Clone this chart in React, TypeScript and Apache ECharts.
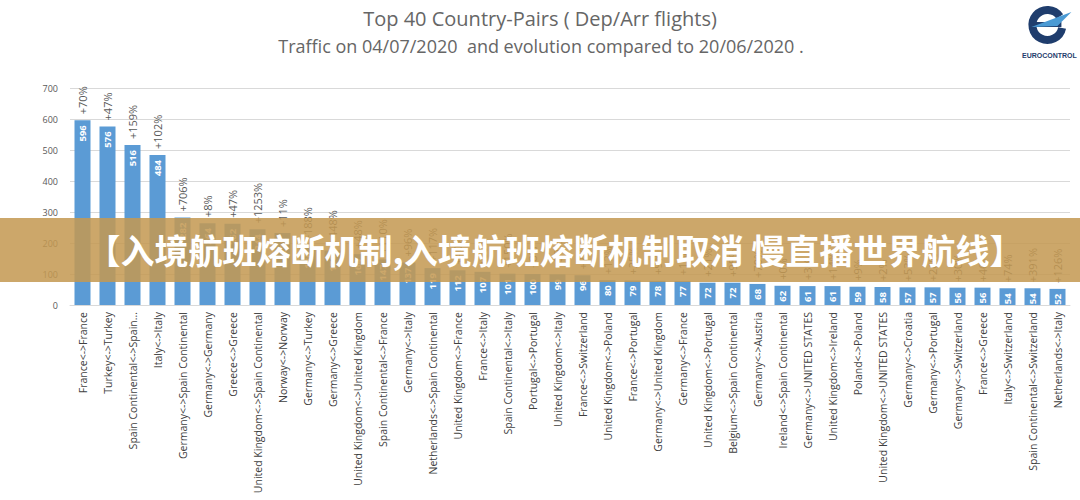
import React, { useEffect, useRef } from "react";
import * as echarts from "echarts";

const categories = [
  "France<->France", "Turkey<->Turkey", "Spain Continental<->Spain Continental", "Italy<->Italy",
  "Germany<->Spain Continental", "Germany<->Germany", "Greece<->Greece", "United Kingdom<->Spain Continental",
  "Norway<->Norway", "Germany<->Turkey", "Germany<->Greece", "United Kingdom<->United Kingdom",
  "Spain Continental<->France", "Germany<->Italy", "Netherlands<->Spain Continental", "United Kingdom<->France",
  "France<->Italy", "Spain Continental<->Italy", "Portugal<->Portugal", "United Kingdom<->Italy",
  "France<->Switzerland", "United Kingdom<->Poland", "France<->Portugal", "Germany<->United Kingdom",
  "Germany<->France", "United Kingdom<->Portugal", "Belgium<->Spain Continental", "Germany<->Austria",
  "Ireland<->Spain Continental", "Germany<->UNITED STATES", "United Kingdom<->Ireland", "Poland<->Poland",
  "United Kingdom<->UNITED STATES", "Germany<->Croatia", "Germany<->Portugal", "Germany<->Switzerland",
  "France<->Greece", "Italy<->Switzerland", "Spain Continental<->Switzerland", "Netherlands<->Italy",
];

const flights = [
  596, 576, 516, 484, 282, 264, 262, 244, 232, 186, 176, 164, 147, 137, 119, 112, 107, 101, 100, 99,
  96, 80, 79, 78, 77, 72, 72, 68, 62, 61, 61, 59, 58, 57, 57, 56, 56, 54, 54, 52,
];

const evolution = [
  "+70%", "+47%", "+159%", "+102%", "+706%", "+8%", "+47%", "+1253%", "+11%", "+188%",
  "+448%", "+48%", "+110%", "+96%", "+117%", "+40%", "+60%", "+150%", "+8%", "+30%",
  "+2%", "+12%", "+25%", "+9%", "+1%", "+21%", "+95%", "+70%", "+0%", "+3%",
  "+14%", "+9%", "+2%", "+53%", "+26%", "+30%", "+46%", "+74%", "+391%", "+126%",
];

const yTicks = { min: 0, max: 700, interval: 100 };

const titleText = "Top 40 Country-Pairs ( Dep/Arr flights)";
const subtitleText = "Traffic on 04/07/2020  and evolution compared to 20/06/2020 .";
const bannerText = "【入境航班熔断机制,入境航班熔断机制取消 慢直播世界航线】";

export default function App() {
  const ref = useRef<HTMLDivElement>(null);
  useEffect(() => {
    if (!ref.current) return;
    const chart = echarts.init(ref.current, undefined, { renderer: "svg" });
    const font = "'Open Sans', 'Noto Sans', sans-serif";
    chart.setOption({
      animation: false,
      backgroundColor: "#ffffff",
      textStyle: { fontFamily: font },
      grid: { left: 70, right: 10, top: 88, bottom: 195 },
      xAxis: {
        type: "category",
        data: categories,
        axisLine: { lineStyle: { color: "#d9d9d9" } },
        axisTick: { show: false },
        axisLabel: {
          interval: 0,
          rotate: 90,
          fontSize: 10.5,
          color: "#404040",
          fontFamily: font,
          margin: 7,
          formatter: (v: string) => (v.length > 34 ? v.slice(0, 25) + "..." : v),
        },
      },
      yAxis: {
        type: "value",
        min: yTicks.min,
        max: yTicks.max,
        interval: yTicks.interval,
        axisLine: { show: false },
        axisTick: { show: false },
        axisLabel: { fontSize: 9, color: "#595959", margin: 12 },
        splitLine: { lineStyle: { color: "#d9d9d9" } },
      },
      series: [
        {
          type: "bar",
          data: flights,
          barWidth: 16,
          itemStyle: { color: "#5b9bd5" },
          label: {
            show: true,
            position: "insideTop",
            rotate: 90,
            align: "right",
            verticalAlign: "middle",
            distance: 5,
            color: "#ffffff",
            fontSize: 9.5,
            fontWeight: "bold",
          },
          z: 2,
        },
        {
          type: "bar",
          data: flights,
          barWidth: 16,
          barGap: "-100%",
          itemStyle: { color: "rgba(0,0,0,0)" },
          label: {
            show: true,
            position: "top",
            rotate: 90,
            align: "left",
            verticalAlign: "middle",
            distance: 6,
            color: "#595959",
            fontSize: 11,
            formatter: (p: any) => evolution[p.dataIndex],
          },
          z: 3,
        },
      ],
      graphic: [
        {
          type: "text",
          x: 540,
          y: 18,
          style: { text: titleText, fontSize: 20, fill: "#666666", fontFamily: font, align: "center", verticalAlign: "middle" },
        },
        {
          type: "text",
          x: 541,
          y: 46,
          style: { text: subtitleText, fontSize: 18, fill: "#666666", fontFamily: font, align: "center", verticalAlign: "middle" },
        },
        // logo
        {
          type: "group",
          left: 1022,
          top: 6,
          children: [
            {
              type: "arc",
              shape: { cx: 22, cy: 21, r: 15, startAngle: 0.2, endAngle: Math.PI * 2 - 0.6 },
              style: { stroke: "#1f3d6d", lineWidth: 8, fill: "none" },
            },
            {
              type: "rect",
              shape: { x: 8, y: 18, width: 28, height: 5 },
              style: { fill: "#1f3d6d" },
            },
            {
              type: "polygon",
              shape: { points: [[6, 23], [46, 8], [32, 22]] },
              style: { fill: "#4a9ad4" },
            },
            {
              type: "text",
              x: 24,
              y: 48,
              style: {
                text: "EUROCONTROL",
                fontSize: 7,
                fontWeight: "bold",
                fill: "#1f3d6d",
                align: "center",
                fontFamily: "'Liberation Sans', sans-serif",
              },
            },
          ],
        },
        // banner
        {
          type: "rect",
          z: 100,
          shape: { x: 0, y: 218, width: 1080, height: 64 },
          style: { fill: "rgba(196,152,82,0.86)" },
        },
        {
          type: "text",
          z: 101,
          x: 555,
          y: 249,
          style: {
            text: bannerText,
            align: "center",
            verticalAlign: "middle",
            fontSize: 34,
            fontWeight: "bold",
            fill: "#ffffff",
            fontFamily: "'Noto Sans CJK SC', sans-serif",
          },
        },
      ],
    });
    return () => chart.dispose();
  }, []);
  return <div ref={ref} style={{ position: "fixed", left: 0, top: 0, width: 1080, height: 500 }} />;
}
